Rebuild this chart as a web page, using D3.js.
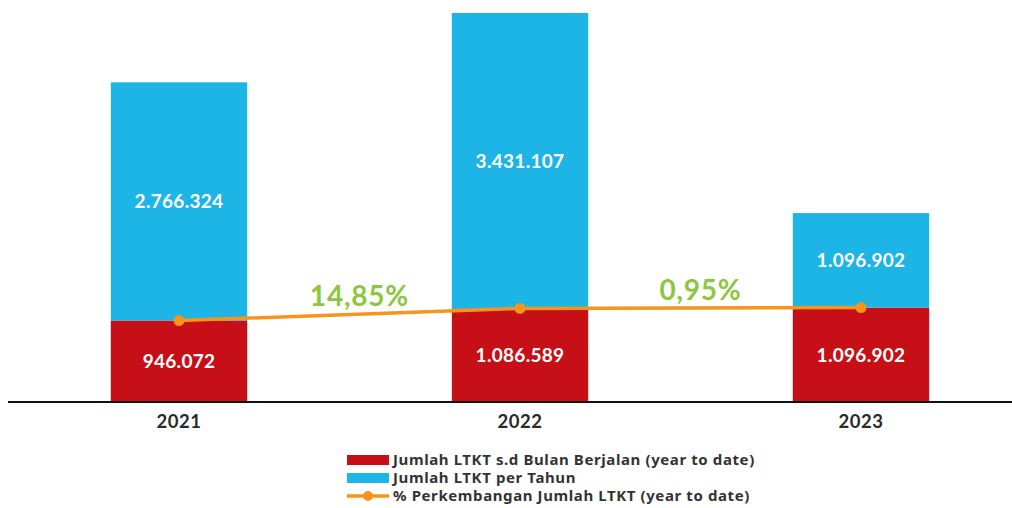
<!DOCTYPE html>
<html lang="en">
<head>
    <meta charset="UTF-8">
    <script src="https://cdn.jsdelivr.net/npm/d3@7"></script>
    <style>
        * { box-sizing: border-box; }
        body { margin: 0; background: #fff; }
    </style>
</head>
<body>
    <svg id="chart" width="1012" height="508"></svg>
    <script>
        // data
        let years = ["2021", "2022", "2023"];
        let ytdValues = [946072, 1086589, 1096902];
        let yearValues = [2766324, 3431107, 1096902];
        let growthLabels = ["14,85%", "0,95%"];
        let legendLabels = [
            "Jumlah LTKT s.d Bulan Berjalan (year to date)",
            "Jumlah LTKT per Tahun",
            "% Perkembangan Jumlah LTKT (year to date)"
        ];

        let red = "#c60f17", blue = "#1db4e6", orange = "#f7941d", green = "#8dc63f";
        let fmt = v => d3.format(",")(v).replace(/,/g, ".");

        let svg = d3.select("#chart");
        let baseY = 402;

        let x = d3.scaleBand()
            .domain(years)
            .range([8.5, 1031.5])
            .paddingInner(0.6)
            .paddingOuter(0.3);

        let totals = years.map((y, i) => ytdValues[i] + yearValues[i]);
        let y = d3.scaleLinear()
            .domain([0, d3.max(totals)])
            .range([baseY, 13]);

        let rows = years.map((yr, i) => ({ year: yr, ytd: ytdValues[i], total: yearValues[i] }));
        let stack = d3.stack().keys(["ytd", "total"])(rows);
        let colors = { ytd: red, total: blue };

        let layers = svg.selectAll("g.layer")
            .data(stack)
            .join("g")
            .attr("class", "layer")
            .attr("fill", d => colors[d.key]);

        layers.selectAll("rect")
            .data(d => d)
            .join("rect")
            .attr("x", d => x(d.data.year))
            .attr("width", x.bandwidth())
            .attr("y", d => y(d[1]))
            .attr("height", d => y(d[0]) - y(d[1]));

        layers.selectAll("text")
            .data(d => d.map(s => ({ s: s, v: s[1] - s[0] })))
            .join("text")
            .attr("x", d => x(d.s.data.year) + x.bandwidth() / 2)
            .attr("y", d => (y(d.s[0]) + y(d.s[1])) / 2)
            .attr("dy", "0.36em")
            .attr("text-anchor", "middle")
            .attr("fill", "#fff")
            .attr("font-family", "Lato, sans-serif")
            .attr("font-weight", "bold")
            .attr("font-size", 19)
            .attr("letter-spacing", 0.3)
            .text(d => fmt(d.v));

        // axis line + year labels
        let axis = svg.append("g")
            .attr("transform", "translate(0," + baseY + ")")
            .call(d3.axisBottom(x).tickSize(0).tickPadding(13));
        axis.select(".domain").attr("d", "M8,0H1012").attr("stroke", "#111").attr("stroke-width", 2);
        axis.selectAll("text")
            .attr("font-family", "Lato, sans-serif")
            .attr("font-weight", "bold")
            .attr("font-size", 18.5)
            .attr("letter-spacing", 0.5)
            .attr("fill", "#2a2a2a");

        // growth line
        let pts = years.map((yr, i) => [x(yr) + x.bandwidth() / 2, y(ytdValues[i])]);
        svg.append("path")
            .attr("d", d3.line()(pts))
            .attr("fill", "none")
            .attr("stroke", orange)
            .attr("stroke-width", 3.5);
        svg.selectAll("circle.pt")
            .data(pts)
            .join("circle")
            .attr("class", "pt")
            .attr("cx", d => d[0])
            .attr("cy", d => d[1])
            .attr("r", 5.5)
            .attr("fill", orange);

        svg.selectAll("text.growth")
            .data(growthLabels)
            .join("text")
            .attr("class", "growth")
            .attr("x", (d, i) => (pts[i][0] + pts[i + 1][0]) / 2 + 10)
            .attr("y", (d, i) => (pts[i][1] + pts[i + 1][1]) / 2 - 8)
            .attr("text-anchor", "middle")
            .attr("fill", green)
            .attr("font-family", "Lato, sans-serif")
            .attr("font-weight", "bold")
            .attr("font-size", 28)
            .attr("letter-spacing", 0.8)
            .text(d => d);

        // legend
        let legend = svg.append("g").attr("transform", "translate(347,460)");
        let items = legend.selectAll("g")
            .data(legendLabels)
            .join("g")
            .attr("transform", (d, i) => "translate(0," + i * 18 + ")");
        items.filter((d, i) => i < 2).append("rect")
            .attr("x", 0).attr("y", -5).attr("width", 42).attr("height", 10)
            .attr("fill", (d, i) => i == 0 ? red : blue);
        let last = items.filter((d, i) => i == 2);
        last.append("line")
            .attr("x1", 0).attr("x2", 42).attr("y1", 0).attr("y2", 0)
            .attr("stroke", orange).attr("stroke-width", 3.5);
        last.append("circle").attr("cx", 21).attr("cy", 0).attr("r", 5).attr("fill", orange);
        items.append("text")
            .attr("x", 46)
            .attr("y", 0)
            .attr("dy", "0.36em")
            .attr("fill", "#333")
            .attr("font-family", "'Noto Sans', sans-serif")
            .attr("font-weight", "bold")
            .attr("font-size", 15)
            .attr("letter-spacing", 0.6)
            .text(d => d);
    </script>
</body>
</html>
